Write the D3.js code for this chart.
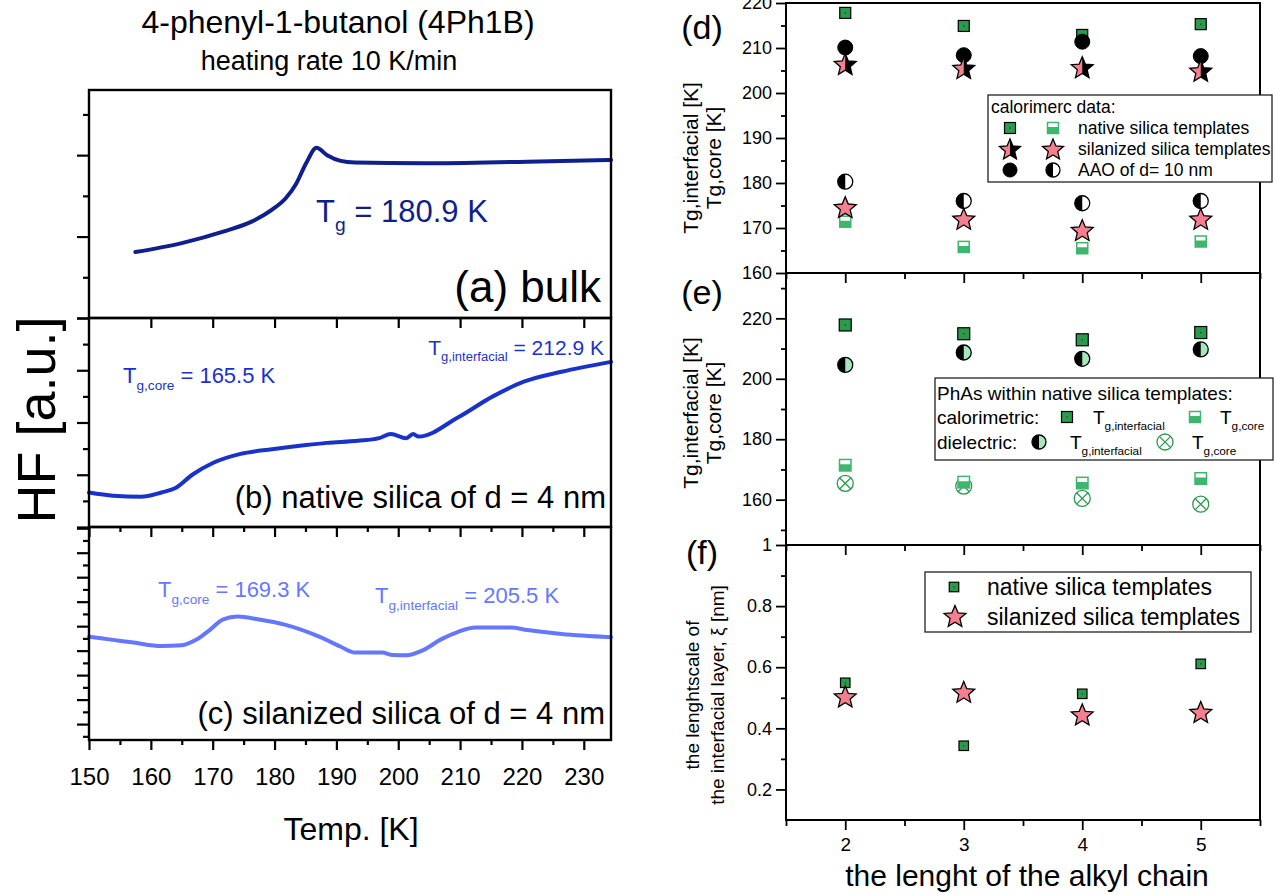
<!DOCTYPE html>
<html>
<head>
<meta charset="utf-8">
<script src="https://cdn.jsdelivr.net/npm/d3@7"></script>
<style>
  body { margin: 0; background: #fff; }
  svg { display: block; }
</style>
</head>
<body>
<svg id="fig" width="1275" height="895"></svg>
<script>
// ---------- DSC heat-flow traces (4Ph1B, 10 K/min) ----------
const bulkT  = [157.5, 165.0, 171.7, 176.2, 179.6, 181.8, 183.5, 185.1, 186.8, 188.5, 190.7, 193.0, 204.1, 220.9, 234.4];
const bulkHF = [0.81, 0.92, 1.06, 1.18, 1.33, 1.47, 1.65, 1.90, 2.09, 2.00, 1.93, 1.91, 1.90, 1.92, 1.94];

const nativeT  = [150.0, 153.9, 158.4, 161.7, 163.9, 166.7, 170.1, 174.5, 179.6, 185.1, 188.5, 193.5, 196.9, 198.8, 201.3, 202.4, 203.3, 209.7, 215.3, 220.3, 226.4, 234.4];
const nativeHF = [0.66, 0.60, 0.58, 0.66, 0.74, 1.00, 1.23, 1.40, 1.49, 1.57, 1.61, 1.65, 1.70, 1.78, 1.70, 1.78, 1.73, 2.10, 2.50, 2.78, 2.97, 3.16];

const silanizedT  = [150.0, 153.9, 157.2, 161.7, 165.0, 167.3, 169.5, 171.7, 174.0, 177.3, 181.8, 187.4, 190.7, 193.0, 197.4, 199.1, 201.3, 204.1, 206.9, 209.7, 212.5, 218.1, 220.9, 226.4, 234.4];
const silanizedHF = [4.57, 4.44, 4.33, 4.19, 4.22, 4.44, 4.84, 5.28, 5.39, 5.28, 5.05, 4.55, 4.16, 3.92, 3.92, 3.82, 3.81, 4.03, 4.46, 4.77, 4.94, 4.94, 4.84, 4.68, 4.55];

const tempMajorTicks = [150, 160, 170, 180, 190, 200, 210, 220, 230];
const tempMinorTicks = [155, 165, 175, 185, 195, 205, 215, 225];

// ---------- glass transitions vs. alkyl chain length ----------
const chainLength = [2, 3, 4, 5];
const nativeInterfacial    = [217.8, 214.9, 212.9, 215.3];
const nativeCore           = [171.4, 165.8, 165.5, 167.0];
const silanizedInterfacial = [206.2, 205.3, 205.5, 204.7];
const silanizedCore        = [174.4, 171.8, 169.3, 171.8];
const aaoInterfacial       = [210.1, 208.4, 211.4, 208.2];
const aaoCore              = [180.3, 176.0, 175.5, 176.0];
const dielectricInterfacial = [204.6, 208.7, 206.6, 209.7];
const dielectricCore        = [165.4, 164.5, 160.4, 158.5];
const xiNative    = [0.549, 0.343, 0.513, 0.611];
const xiSilanized = [0.501, 0.516, 0.442, 0.450];

const chainMajorTicks = [2, 3, 4, 5];
const chainMinorTicks = [1.5, 2.5, 3.5, 4.5, 5.5];
const tgTicksD = [160, 170, 180, 190, 200, 210, 220];
const tgMinorD = [165, 175, 185, 195, 205, 215];
const tgTicksE = [160, 180, 200, 220];
const tgMinorE = [150, 170, 190, 210, 230];
const xiTicks = [0.2, 0.4, 0.6, 0.8, 1];
const xiMinor = [0.3, 0.5, 0.7, 0.9];

// ---------- setup ----------
const FONT = "'Liberation Sans', Arial, Helvetica, sans-serif";
const svg = d3.select('#fig').attr('font-family', FONT);
const defs = svg.append('defs');
function halfClip(id, x, y, w, h) {
  defs.append('clipPath').attr('id', id).attr('clipPathUnits', 'objectBoundingBox')
    .append('rect').attr('x', x).attr('y', y).attr('width', w).attr('height', h);
}
halfClip('clipRight', 0.5, -0.1, 0.6, 1.2);
halfClip('clipLeft', -0.1, -0.1, 0.6, 1.2);
halfClip('clipBottom', -0.1, 0.42, 1.2, 0.7);

const GREEN = '#2b9a4c', GREEN_LIGHT = '#3fb56d', PINK = '#f4808f', MINT = '#a6e6bd';

function text(g, x, y, str, size, opt = {}) {
  return g.append('text').attr('x', x).attr('y', y).attr('font-size', size)
    .attr('fill', opt.fill || '#000').attr('text-anchor', opt.anchor || 'start')
    .attr('font-family', FONT).text(str);
}
function tgText(g, x, y, sub, rest, size, color, anchor) {
  const t = g.append('text').attr('x', x).attr('y', y).attr('font-size', size)
    .attr('fill', color).attr('font-family', FONT).attr('text-anchor', anchor || 'start');
  t.append('tspan').text('T');
  t.append('tspan').attr('font-size', size * 0.62).attr('dy', size * 0.3).text(sub);
  if (rest) t.append('tspan').attr('dy', -size * 0.3).text(rest);
  return t;
}
function styleAxis(sel, sw) {
  sel.select('.domain').remove();
  sel.selectAll('.tick line').attr('stroke', '#000').attr('stroke-width', sw);
  sel.selectAll('.tick text').attr('fill', '#000');
  sel.attr('font-family', FONT);
}

// ---------- left: heat-flow panels ----------
const xT = d3.scaleLinear().domain([150, 234.4]).range([89, 611]);
const hfPanels = [
  { top: 90,  bottom: 318, domain: [0, 2.8],    major: [0, 1, 2],          minor: [0.5, 1.5, 2.5],
    T: bulkT, HF: bulkHF, color: '#0f1f8c' },
  { top: 318, bottom: 527, domain: [0, 4],      major: [0, 1, 2, 3, 4],    minor: [0.5, 1.5, 2.5, 3.5],
    T: nativeT, HF: nativeHF, color: '#1a32cc' },
  { top: 527, bottom: 740, domain: [0.35, 9.05], major: [1, 2, 3, 4, 5, 6, 7, 8, 9], minor: [0.5, 1.5, 2.5, 3.5, 4.5, 5.5, 6.5, 7.5, 8.5],
    T: silanizedT, HF: silanizedHF, color: '#6677ff' }
];

const left = svg.append('g');
hfPanels.forEach(p => {
  const y = d3.scaleLinear().domain(p.domain).range([p.bottom, p.top]);
  const line = d3.line().x((d, k) => xT(p.T[k])).y(d => y(d)).curve(d3.curveMonotoneX);
  left.append('path').datum(p.HF).attr('d', line).attr('fill', 'none')
    .attr('stroke', p.color).attr('stroke-width', 4).attr('stroke-linejoin', 'round').attr('stroke-linecap', 'round');
  left.append('g').attr('transform', `translate(${xT.range()[0]},0)`)
    .call(d3.axisLeft(y).tickValues(p.major).tickSize(12).tickFormat(''))
    .call(s => styleAxis(s, 2.2));
  left.append('g').attr('transform', `translate(${xT.range()[0]},0)`)
    .call(d3.axisLeft(y).tickValues(p.minor).tickSize(6).tickFormat(''))
    .call(s => styleAxis(s, 2.2));
  left.append('rect').attr('x', xT.range()[0]).attr('y', p.top)
    .attr('width', xT.range()[1] - xT.range()[0]).attr('height', p.bottom - p.top)
    .attr('fill', 'none').attr('stroke', '#000').attr('stroke-width', 2.4);
});
// ticks along the panel boundaries and bottom axis
left.append('g').attr('transform', 'translate(0,318)')
  .call(d3.axisBottom(xT).tickValues(tempMajorTicks.slice(1)).tickSize(10).tickFormat(''))
  .call(s => styleAxis(s, 2.2));
[527, 740].forEach(yb => {
  left.append('g').attr('transform', `translate(0,${yb})`)
    .call(d3.axisBottom(xT).tickValues(tempMajorTicks).tickSize(10).tickFormat(''))
    .call(s => styleAxis(s, 2.2));
  left.append('g').attr('transform', `translate(0,${yb})`)
    .call(d3.axisBottom(xT).tickValues(tempMinorTicks).tickSize(5).tickFormat(''))
    .call(s => styleAxis(s, 2.2));
});
left.append('g').attr('transform', 'translate(0,740)')
  .call(d3.axisBottom(xT).tickValues(tempMajorTicks).tickSize(10).tickPadding(18).tickFormat(d3.format('d')))
  .call(s => styleAxis(s, 2.2))
  .call(s => s.selectAll('.tick line').remove())
  .call(s => s.selectAll('.tick text').attr('font-size', 24));

text(left, 338, 33, '4-phenyl-1-butanol (4Ph1B)', 32, { anchor: 'middle' });
text(left, 329, 70, 'heating rate 10 K/min', 27, { anchor: 'middle' });
text(left, 351, 840, 'Temp. [K]', 32, { anchor: 'middle' });
left.append('text').attr('transform', 'translate(36,420) rotate(-90)')
  .attr('text-anchor', 'middle').attr('dominant-baseline', 'central')
  .attr('font-size', 54).attr('font-family', FONT).text('HF [a.u.]');

tgText(left, 316, 222, 'g', ' = 180.9 K', 31, '#0f1f8c');
text(left, 601, 302, '(a) bulk', 44, { anchor: 'end' });
tgText(left, 123, 383, 'g,core', ' = 165.5 K', 22, '#1a32cc');
tgText(left, 604, 355, 'g,interfacial', ' = 212.9 K', 21, '#1a32cc', 'end');
text(left, 606, 508, '(b) native silica of d = 4 nm', 31, { anchor: 'end' });
tgText(left, 158, 597, 'g,core', ' = 169.3 K', 22, '#6677ff');
tgText(left, 375, 603, 'g,interfacial', ' = 205.5 K', 22, '#6677ff');
text(left, 605, 724, '(c) silanized silica of d = 4 nm', 31, { anchor: 'end' });

// ---------- markers ----------
function starPath(R, ratio = 0.45) {
  const pts = [];
  for (let i = 0; i < 10; i++) {
    const r = i % 2 === 0 ? R : R * ratio;
    const a = -Math.PI / 2 + i * Math.PI / 5;
    pts.push([r * Math.cos(a), r * Math.sin(a)]);
  }
  return 'M' + pts.map(p => p[0].toFixed(2) + ',' + p[1].toFixed(2)).join('L') + 'Z';
}
function marker(g, type, cx, cy, s) {
  const m = g.append('g').attr('transform', `translate(${cx},${cy})`);
  const sq = () => m.append('rect').attr('x', -s / 2).attr('y', -s / 2).attr('width', s).attr('height', s);
  const ci = r => m.append('circle').attr('r', r);
  if (type === 'square') {
    sq().attr('fill', GREEN).attr('stroke', '#000').attr('stroke-width', 1.2);
    m.append('rect').attr('x', -0.6).attr('y', -0.6).attr('width', 1.2).attr('height', 1.2).attr('fill', '#0b3b1a');
  } else if (type === 'halfSquare') {
    sq().attr('fill', '#fff');
    sq().attr('fill', GREEN_LIGHT).attr('clip-path', 'url(#clipBottom)');
    sq().attr('fill', 'none').attr('stroke', GREEN_LIGHT).attr('stroke-width', 1.5);
  } else if (type === 'star' || type === 'halfStar') {
    const d = starPath(s);
    m.append('path').attr('d', d).attr('fill', PINK);
    if (type === 'halfStar') m.append('path').attr('d', d).attr('fill', '#000').attr('clip-path', 'url(#clipRight)');
    m.append('path').attr('d', d).attr('fill', 'none').attr('stroke', '#000').attr('stroke-width', 1.3).attr('stroke-linejoin', 'miter');
  } else if (type === 'dot') {
    ci(s).attr('fill', '#000').attr('stroke', '#000').attr('stroke-width', 1);
  } else if (type === 'halfDot' || type === 'halfDotMint') {
    ci(s).attr('fill', type === 'halfDot' ? '#fff' : MINT);
    ci(s).attr('fill', '#000').attr('clip-path', 'url(#clipLeft)');
    ci(s).attr('fill', 'none').attr('stroke', '#000').attr('stroke-width', 1.3);
  } else if (type === 'crossCircle') {
    ci(s).attr('fill', '#fff').attr('stroke', GREEN).attr('stroke-width', 1.3);
    const k = s * 0.7071;
    m.append('path').attr('d', `M${-k},${-k}L${k},${k}M${-k},${k}L${k},${-k}`)
      .attr('stroke', GREEN).attr('stroke-width', 1.3);
  }
}

// ---------- right: Tg and interfacial-layer panels ----------
const xC = d3.scaleLinear().domain([1.5, 5.5]).range([786, 1260]);
const right = svg.append('g');
const yD = d3.scaleLinear().domain([160, 220]).range([273, 3]);
const yE = d3.scaleLinear().domain([145, 235]).range([545, 273]);
const yF = d3.scaleLinear().domain([0.1, 1.0]).range([820, 545]);

function yAxis(scale, major, minor, fmt) {
  right.append('g').attr('transform', `translate(${xC.range()[0]},0)`)
    .call(d3.axisLeft(scale).tickValues(major).tickSize(10).tickPadding(4).tickFormat(fmt))
    .call(s => styleAxis(s, 1.8))
    .call(s => s.selectAll('.tick text').attr('font-size', 18));
  right.append('g').attr('transform', `translate(${xC.range()[0]},0)`)
    .call(d3.axisLeft(scale).tickValues(minor).tickSize(5).tickFormat(''))
    .call(s => styleAxis(s, 1.8));
}
yAxis(yD, tgTicksD, tgMinorD, d3.format('d'));
yAxis(yE, tgTicksE, tgMinorE, d3.format('d'));
yAxis(yF, xiTicks, xiMinor, d => d === 1 ? '1' : d3.format('.1f')(d));

[[3, 273], [273, 545], [545, 820]].forEach(([t, b]) => {
  right.append('rect').attr('x', xC.range()[0]).attr('y', t)
    .attr('width', xC.range()[1] - xC.range()[0]).attr('height', b - t)
    .attr('fill', 'none').attr('stroke', '#000').attr('stroke-width', 2);
});
[273, 545, 820].forEach(yb => {
  right.append('g').attr('transform', `translate(0,${yb})`)
    .call(d3.axisBottom(xC).tickValues(chainMajorTicks).tickSize(10).tickFormat(''))
    .call(s => styleAxis(s, 1.8));
  right.append('g').attr('transform', `translate(0,${yb})`)
    .call(d3.axisBottom(xC).tickValues(chainMinorTicks).tickSize(6).tickFormat(''))
    .call(s => styleAxis(s, 1.8));
});
right.append('g').attr('transform', 'translate(0,820)')
  .call(d3.axisBottom(xC).tickValues(chainMajorTicks).tickSize(10).tickPadding(8).tickFormat(d3.format('d')))
  .call(s => styleAxis(s, 1.8))
  .call(s => s.selectAll('.tick line').remove())
  .call(s => s.selectAll('.tick text').attr('font-size', 19));

text(right, 1027, 886, 'the lenght of the alkyl chain', 30, { anchor: 'middle' });
function rotLabel(x, y, str, size) {
  right.append('text').attr('transform', `translate(${x},${y}) rotate(-90)`)
    .attr('text-anchor', 'middle').attr('dominant-baseline', 'central')
    .attr('font-size', size).attr('font-family', FONT).text(str);
}
rotLabel(690, 158, 'Tg,interfacial [K]', 21);
rotLabel(713, 158, 'Tg,core [K]', 21);
rotLabel(690, 413, 'Tg,interfacial [K]', 21);
rotLabel(713, 413, 'Tg,core [K]', 21);
rotLabel(692, 695, 'the lenghtscale of', 19);
rotLabel(717, 695, 'the interfacial layer, ξ [nm]', 19);

[['(d)', 27], ['(e)', 292], ['(f)', 552]].forEach(([s, y]) => {
  right.append('text').attr('x', 702).attr('y', y).attr('text-anchor', 'middle')
    .attr('dominant-baseline', 'central').attr('font-size', 34).attr('font-family', FONT).text(s);
});

// (d) calorimetric data
const dG = right.append('g');
chainLength.forEach((c, i) => marker(dG, 'square', xC(c), yD(nativeInterfacial[i]), 11));
chainLength.forEach((c, i) => marker(dG, 'halfSquare', xC(c), yD(nativeCore[i]), 11));
chainLength.forEach((c, i) => marker(dG, 'dot', xC(c), yD(aaoInterfacial[i]), 7.5));
chainLength.forEach((c, i) => marker(dG, 'halfDot', xC(c), yD(aaoCore[i]), 7.5));
chainLength.forEach((c, i) => marker(dG, 'halfStar', xC(c), yD(silanizedInterfacial[i]), 11.5));
chainLength.forEach((c, i) => marker(dG, 'star', xC(c), yD(silanizedCore[i]), 11.5));

// (e) native templates: calorimetric vs dielectric
const eG = right.append('g');
chainLength.forEach((c, i) => marker(eG, 'crossCircle', xC(c), yE(dielectricCore[i]), 8));
chainLength.forEach((c, i) => marker(eG, 'halfSquare', xC(c), yE(nativeCore[i]), 11.5));
chainLength.forEach((c, i) => marker(eG, 'square', xC(c), yE(nativeInterfacial[i]), 12));
chainLength.forEach((c, i) => marker(eG, 'halfDotMint', xC(c), yE(dielectricInterfacial[i]), 7.5));

// (f) interfacial layer thickness
const fG = right.append('g');
chainLength.forEach((c, i) => marker(fG, 'square', xC(c), yF(xiNative[i]), 9.5));
chainLength.forEach((c, i) => marker(fG, 'star', xC(c), yF(xiSilanized[i]), 11.5));

// legends
const lg = right.append('g');
lg.append('rect').attr('x', 988).attr('y', 95).attr('width', 284).attr('height', 87)
  .attr('fill', '#fff').attr('stroke', '#222').attr('stroke-width', 1.3);
text(lg, 991, 113, 'calorimerc data:', 17.5);
marker(lg, 'square', 1010, 128, 11); marker(lg, 'halfSquare', 1053, 128, 11);
text(lg, 1078, 134, 'native silica templates', 17.5);
marker(lg, 'halfStar', 1010, 150, 11); marker(lg, 'star', 1053, 150, 11);
text(lg, 1078, 155, 'silanized silica templates', 17.5);
marker(lg, 'dot', 1010, 170, 7); marker(lg, 'halfDot', 1053, 170, 7);
text(lg, 1078, 176, 'AAO of d= 10 nm', 17.5);

lg.append('rect').attr('x', 935).attr('y', 378).attr('width', 338).attr('height', 82)
  .attr('fill', '#fff').attr('stroke', '#222').attr('stroke-width', 1.3);
text(lg, 937, 400, 'PhAs within native silica templates:', 19);
text(lg, 937, 424, 'calorimetric:', 19);
marker(lg, 'square', 1067, 417, 11);
tgText(lg, 1093, 424, 'g,interfacial', null, 19, '#000');
marker(lg, 'halfSquare', 1195, 417, 11);
tgText(lg, 1220, 424, 'g,core', null, 19, '#000');
text(lg, 937, 449, 'dielectric:', 19);
marker(lg, 'halfDotMint', 1039, 442, 7);
tgText(lg, 1070, 449, 'g,interfacial', null, 19, '#000');
marker(lg, 'crossCircle', 1165, 442, 8);
tgText(lg, 1192, 449, 'g,core', null, 19, '#000');

lg.append('rect').attr('x', 925).attr('y', 572).attr('width', 326).attr('height', 60)
  .attr('fill', '#fff').attr('stroke', '#222').attr('stroke-width', 1.3);
marker(lg, 'square', 954, 587, 9.5);
text(lg, 987, 595, 'native silica templates', 23);
marker(lg, 'star', 955, 617, 11.5);
text(lg, 987, 625, 'silanized silica templates', 23);
</script>
</body>
</html>
